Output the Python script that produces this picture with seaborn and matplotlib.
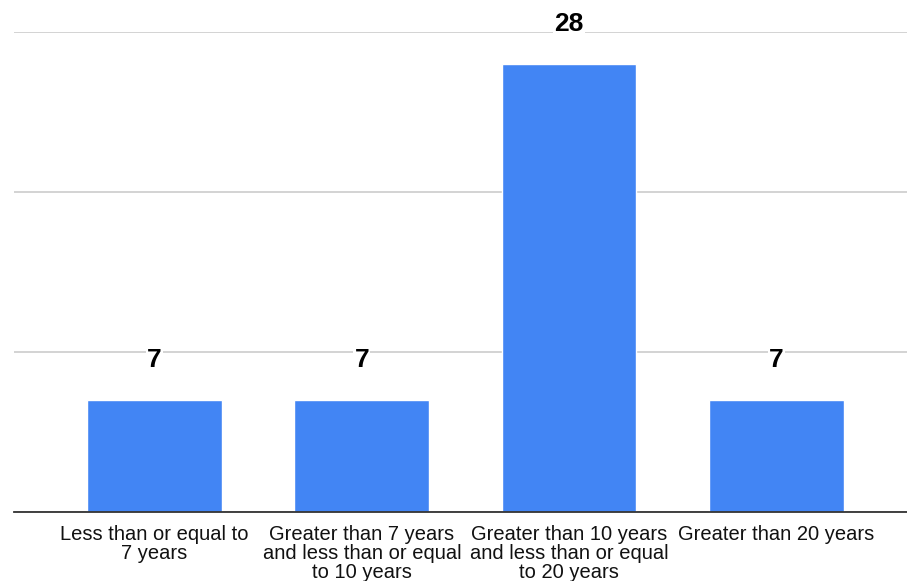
import matplotlib
matplotlib.use("Agg")
import matplotlib.pyplot as plt
import seaborn as sns
import pandas as pd

categories = [
    "Less than or equal to\n7 years",
    "Greater than 7 years\nand less than or equal\nto 10 years",
    "Greater than 10 years\nand less than or equal\nto 20 years",
    "Greater than 20 years",
]
counts = [7, 7, 28, 7]
y_ticks = [0, 10, 20, 30]

sns.set_theme(style="white")
plt.rcParams["font.family"] = ["Liberation Sans", "DejaVu Sans"]

df = pd.DataFrame({"category": categories, "count": counts})

fig = plt.figure(figsize=(9.07, 5.81), dpi=100)
ax = fig.add_axes([14 / 907, 69 / 581, 893 / 907, 480 / 581])

sns.barplot(data=df, x="category", y="count", color="#4285F4",
            width=0.65, saturation=1, ax=ax, zorder=2)

ax.set_xlim(-0.678, 3.63)
ax.set_ylim(0, 30)
ax.set_yticks(y_ticks)
ax.set_yticklabels([])
ax.tick_params(axis="y", length=0)
ax.yaxis.grid(True, color="#cccccc", linewidth=1.2, zorder=0)
ax.set_axisbelow(True)

for side in ("top", "right", "left"):
    ax.spines[side].set_visible(False)
ax.spines["bottom"].set_color("#333333")
ax.spines["bottom"].set_linewidth(1.3)
ax.spines["bottom"].set_zorder(3)

ax.set_xlabel("")
ax.set_ylabel("")
ax.tick_params(axis="x", length=0, pad=9)
for lbl in ax.get_xticklabels():
    lbl.set_fontsize(14.5)
    lbl.set_color("#111111")
    lbl.set_linespacing(1.03)

for i, v in enumerate(counts):
    ax.annotate(str(v), xy=(i, v), xytext=(0, 29), textcoords="offset points",
                ha="center", va="center", fontsize=19, fontweight="bold",
                color="black", zorder=4, annotation_clip=False,
                bbox=dict(boxstyle="square,pad=0.05", facecolor="white",
                          edgecolor="none"))

fig.savefig("out.png", dpi=100)
